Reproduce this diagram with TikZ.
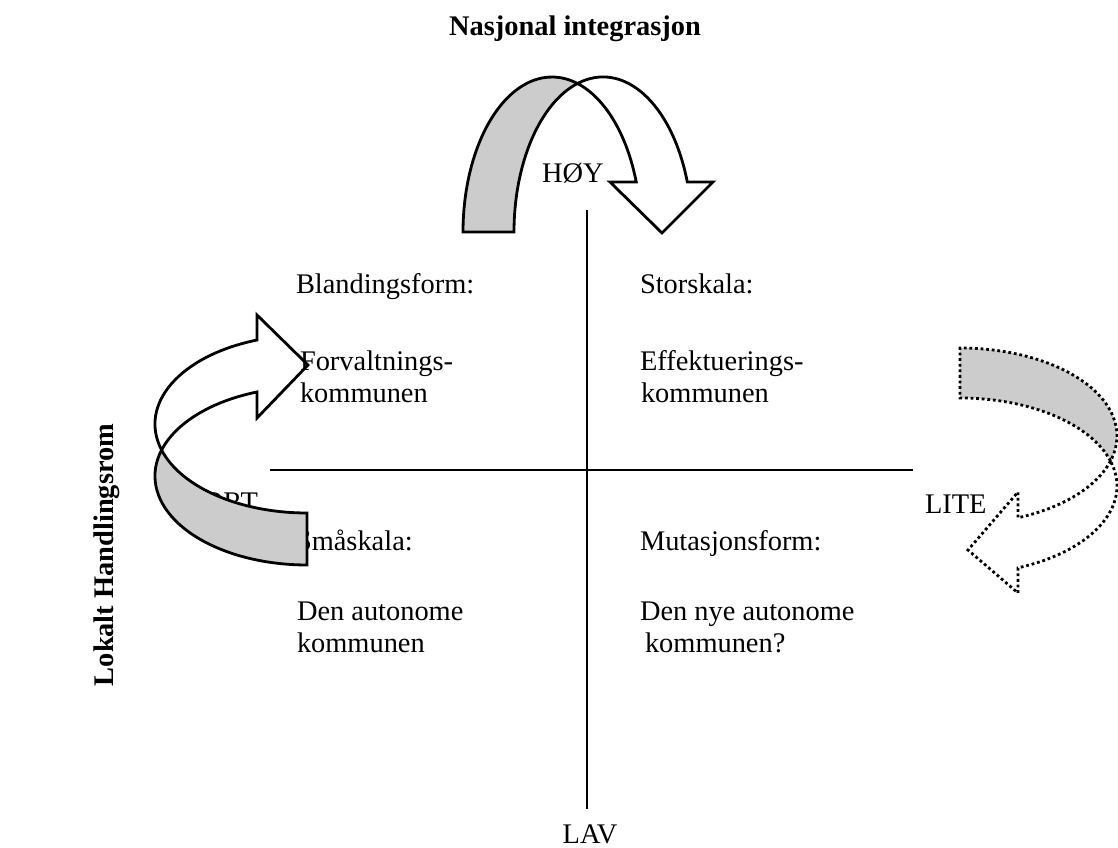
\documentclass[tikz,border=0pt]{standalone}
\usepackage{fontspec}
\setmainfont{Liberation Serif}
\begin{document}
\begin{tikzpicture}[x=0.5pt,y=-0.5pt]
\tikzset{
  lbl/.style={inner sep=0pt, outer sep=0pt, font=\fontsize{14.2}{16.3}\selectfont},
  ttl/.style={inner sep=0pt, outer sep=0pt, font=\fontsize{14.2}{16.3}\selectfont\bfseries},
  axis/.style={line width=1.4pt},
  solidarrow/.style={draw=black, line width=1.4pt, line join=miter},
  dotarrow/.style={draw=black, line width=1.4pt, dash pattern=on 1.4pt off 1.4pt, line join=miter},
  backface/.style={fill=black!20},
  frontface/.style={fill=white}
}
\useasboundingbox (0,0) rectangle (1118,847);
% axes
\coordinate (vtop) at (587,210);
\coordinate (vbot) at (587,809);
\coordinate (hleft) at (270,470);
\coordinate (hright) at (913,470);
\draw[axis] (vtop) -- (vbot);
\draw[axis] (hleft) -- (hright);
% texts behind arrows
\node[lbl, anchor=base east] (stort) at (258,511) {STORT};
\node[lbl, anchor=base west] (smaa) at (296,550) {Småskala:};
% top curved down arrow
\coordinate (tP) at (577.5,83.5);
\coordinate (tB0) at (514,232);
\path[solidarrow, backface] (tB0) arc[start angle=180, end angle=253.35, x radius=89, y radius=155]
   arc[start angle=286.65, end angle=180, x radius=89, y radius=155] -- cycle;
\path[solidarrow, frontface] (tP) arc[start angle=286.65, end angle=341.2, x radius=89, y radius=155]
   -- (610,182) -- (662,233) -- (713,182) -- (687.3,182)
   arc[start angle=341.2, end angle=253.35, x radius=89, y radius=155] -- cycle;
% left curved right arrow
\coordinate (lP) at (161.6,450);
\path[solidarrow, backface] (lP) arc[start angle=163, end angle=90, x radius=152, y radius=89]
   -- ++(0,52) arc[start angle=90, end angle=197, x radius=152, y radius=89] -- cycle;
\path[solidarrow, frontface] (lP) arc[start angle=197, end angle=250.8, x radius=152, y radius=89]
   -- (257,418) -- (308,365) -- (257,315) -- (257,340)
   arc[start angle=250.8, end angle=163, x radius=152, y radius=89] -- cycle;
% right dotted curved left arrow
\coordinate (rP) at (1110.5,461);
\path[dotarrow, backface] (rP) arc[start angle=343.5, end angle=270, x radius=157, y radius=88]
   -- ++(0,-50) arc[start angle=270, end angle=376.5, x radius=157, y radius=88] -- cycle;
\path[dotarrow, frontface] (rP) arc[start angle=16.5, end angle=68.3, x radius=157, y radius=88]
   -- (1018,492) -- (968,550) -- (1018,593) -- (1018,567.8)
   arc[start angle=68.3, end angle=-16.5, x radius=157, y radius=88] -- cycle;
% texts
\node[ttl, anchor=base] (title) at (575,35) {Nasjonal integrasjon};
\node[ttl, rotate=90] (side) at (107,555) {Lokalt Handlingsrom};
\node[lbl, anchor=base west] (hoy) at (542,182) {HØY};
\node[lbl, anchor=base] (lav) at (590,843) {LAV};
\node[lbl, anchor=base west] (lite) at (925,513) {LITE};
\node[lbl, anchor=base west] (q1a) at (296,293) {Blandingsform:};
\node[lbl, anchor=base west] (q1b) at (300,370) {Forvaltnings-};
\node[lbl, anchor=base west] (q1c) at (300,402) {kommunen};
\node[lbl, anchor=base west] (q2a) at (640,293) {Storskala:};
\node[lbl, anchor=base west] (q2b) at (640,370) {Effektuerings-};
\node[lbl, anchor=base west] (q2c) at (641,402) {kommunen};
\node[lbl, anchor=base west] (q4a) at (640,550) {Mutasjonsform:};
\node[lbl, anchor=base west] (q3b) at (297,620) {Den autonome};
\node[lbl, anchor=base west] (q3c) at (297,652) {kommunen};
\node[lbl, anchor=base west] (q4b) at (640,620) {Den nye autonome};
\node[lbl, anchor=base west] (q4c) at (645,652) {kommunen?};
\end{tikzpicture}
\end{document}
